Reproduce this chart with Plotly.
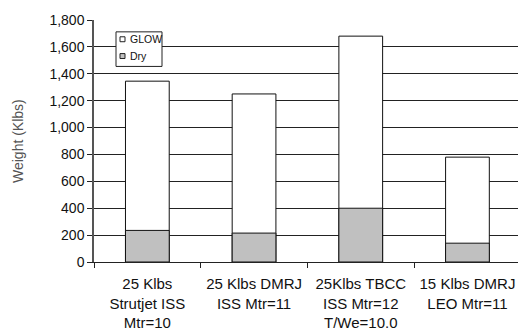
import plotly.graph_objects as go

# Vehicle concepts and their weights (Klbs)
categories = [
    "25 Klbs<br>Strutjet ISS<br>Mtr=10",
    "25 Klbs DMRJ<br>ISS Mtr=11",
    "25Klbs TBCC<br>ISS Mtr=12<br>T/We=10.0",
    "15 Klbs DMRJ<br>LEO Mtr=11",
]
glow = [1345, 1250, 1680, 780]
dry = [235, 215, 400, 140]

y_ticks = list(range(0, 1801, 200))
y_tick_text = [f"{v:,}" for v in y_ticks]
y_title = "Weight (Klbs)"

W, H = 518, 331
M_L, M_R, M_T, M_B = 94, 0, 20, 66
FONT = "Arial"
GRID = "#222222"

series = [
    ("GLOW", glow, "#ffffff"),
    ("Dry", dry, "#c0c0c0"),
]

fig = go.Figure()
for name, vals, color in series:
    fig.add_trace(go.Bar(
        x=categories, y=vals, name=name, width=0.41,
        marker=dict(color=color, line=dict(color="#111111", width=1)),
        showlegend=False,
    ))

# Plot area spans past the right edge of the page, so the range is clipped there
cat_px = 106.7
plot_w = W - M_L - M_R
x_range = [-0.5, -0.5 + plot_w / cat_px]

fig.update_layout(
    width=W, height=H,
    margin=dict(l=M_L, r=M_R, t=M_T, b=M_B, pad=0),
    paper_bgcolor="white", plot_bgcolor="white",
    barmode="overlay",
    font=dict(family=FONT, size=14, color="#111111"),
    xaxis=dict(
        range=x_range, showgrid=False, ticks="outside", tickson="boundaries",
        ticklen=5, tickcolor=GRID, showline=True, linecolor=GRID,
        linewidth=1, tickfont=dict(size=15, color="#111111"), tickangle=0,
        ticklabelstandoff=8,
    ),
    yaxis=dict(
        range=[0, 1800], tickvals=y_ticks, ticktext=y_tick_text,
        showgrid=True, gridcolor=GRID, gridwidth=1, zeroline=False,
        ticks="outside", ticklen=5, tickcolor=GRID,
        showline=True, linecolor="#555555", linewidth=1.5,
    ),
)


def px_x(px):
    return (px - M_L) / plot_w


def px_y(py):
    return (H - M_B - py) / (H - M_T - M_B)


# Rotated y-axis title
fig.add_annotation(text=y_title, xref="paper", yref="paper",
                   x=px_x(18), y=0.5, textangle=-90, showarrow=False,
                   xanchor="center", yanchor="middle",
                   font=dict(size=14, color="#555555"))

# Boxed legend in the upper-left of the plot
fig.add_shape(type="rect", xref="paper", yref="paper",
              x0=px_x(116), x1=px_x(162), y0=px_y(67), y1=px_y(32),
              line=dict(color="#222222", width=1), fillcolor="white", layer="above")
for i, (name, _, color) in enumerate(series):
    cy = 39.5 + i * 17
    fig.add_shape(type="rect", xref="paper", yref="paper",
                  x0=px_x(120), x1=px_x(125), y0=px_y(cy + 2.5), y1=px_y(cy - 2.5),
                  line=dict(color="#222222", width=1), fillcolor=color, layer="above")
    fig.add_annotation(text=name, xref="paper", yref="paper",
                       x=px_x(128), y=px_y(cy), xanchor="left", yanchor="middle",
                       showarrow=False, font=dict(size=10.5, color="#111111"))

fig.write_html("out.html")
